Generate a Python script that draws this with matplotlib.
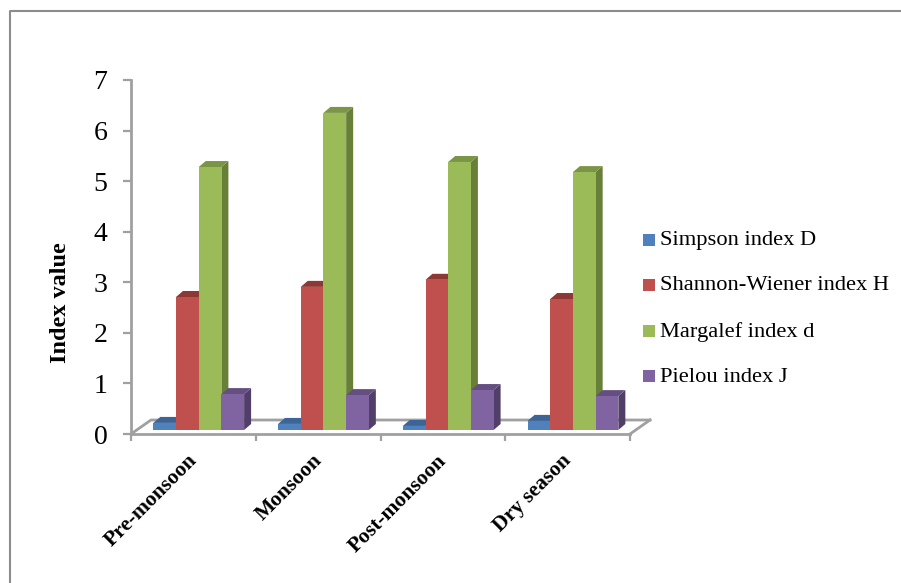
import matplotlib
matplotlib.use("Agg")
import matplotlib.pyplot as plt
from matplotlib.patches import Polygon, Rectangle
from matplotlib.lines import Line2D

W, H = 901, 583

seasons = ["Pre-monsoon", "Monsoon", "Post-monsoon", "Dry season"]
simpson = [0.14, 0.12, 0.08, 0.18]
shannon = [2.63, 2.83, 2.97, 2.59]
margalef = [5.20, 6.27, 5.30, 5.10]
pielou = [0.71, 0.69, 0.79, 0.67]
series_names = ["Simpson index D", "Shannon-Wiener index H",
                "Margalef index d", "Pielou index J"]
series_values = [simpson, shannon, margalef, pielou]
front_colors = ["#4f81bd", "#c0504d", "#9bbb59", "#8064a2"]
top_colors = ["#3c6595", "#8e3836", "#7b9546", "#654f81"]
side_colors = ["#2f5179", "#7d3230", "#687f38", "#523f69"]
GRAY = "#a0a0a0"

plt.rcParams["font.family"] = ["Liberation Serif", "DejaVu Serif"]

fig = plt.figure(figsize=(W / 100, H / 100), dpi=100, facecolor="white")

# Plot area: the front floor edge carries y = 0 and the left wall the scale.
left, right, top, bottom = 131, 630, 80, 434
ax = fig.add_axes([left / W, 1 - bottom / H, (right - left) / W, (bottom - top) / H])
ax.set_xlim(0, 4)
ax.set_ylim(0, 7)
ax.patch.set_visible(False)
for name in ["top", "right"]:
    ax.spines[name].set_visible(False)
for name in ["left", "bottom"]:
    ax.spines[name].set_color(GRAY)
    ax.spines[name].set_linewidth(2.0)

ppx = 4 / (right - left)           # data units per pixel along x
ppy = 7 / (bottom - top)           # data units per pixel along y

# Perspective floor behind the bars
floor_dx, floor_dy = 20 * ppx, 14 * ppy
ax.add_line(Line2D([0, floor_dx, 4 + floor_dx], [0, floor_dy, floor_dy],
                   color=GRAY, lw=2.0, clip_on=False, zorder=1))
ax.add_line(Line2D([4, 4 + floor_dx], [0, floor_dy],
                   color=GRAY, lw=2.0, clip_on=False, zorder=1))

# 3-D style bars: front face, top face and right side
bar_w = 22.7 * ppx
start = 22.3 * ppx
base = 4 * ppy
dx, dy = 7 * ppx, 6 * ppy
for g in range(len(seasons)):
    for s, values in enumerate(series_values):
        x0 = g + start + s * bar_w
        x1 = x0 + bar_w
        y1 = base + values[g]
        z = 3 + s * 0.1
        ax.add_patch(Polygon([(x1, base), (x1 + dx, base + dy), (x1 + dx, y1 + dy), (x1, y1)],
                             fc=side_colors[s], ec="none", clip_on=False, zorder=z))
        ax.add_patch(Polygon([(x0, y1), (x0 + dx, y1 + dy), (x1 + dx, y1 + dy), (x1, y1)],
                             fc=top_colors[s], ec="none", clip_on=False, zorder=z))
        ax.add_patch(Rectangle((x0, base), bar_w, values[g],
                               fc=front_colors[s], ec="none", clip_on=False, zorder=z + 0.05))

ax.set_yticks(range(8))
ax.set_xticks(range(5))
ax.set_xticklabels([])
ax.tick_params(axis="y", direction="out", length=5.5, width=1.6, color=GRAY,
               labelsize=20, pad=11.5, labelcolor="black")
ax.tick_params(axis="x", direction="out", length=5, width=1.6, color=GRAY)

# Season names, slanted and ending under the middle of each group
for g, label in enumerate(seasons):
    ax.annotate(label, xy=(g + 0.5, 0), xycoords=("data", "data"),
                xytext=(-4.5, -12), textcoords="offset points",
                rotation=45, rotation_mode="anchor", ha="right", va="top",
                fontsize=15.5, fontweight="bold", color="black")

fig.text(60 / W, 1 - 303 / H, "Index value", rotation=90, ha="center", va="center",
         fontsize=17.5, fontweight="bold", color="black")

# Legend drawn by hand in figure space
legend_y = [240, 285, 331, 376]
for y, name, color in zip(legend_y, series_names, front_colors):
    fig.add_artist(Rectangle((643 / W, 1 - (y + 6) / H), 12 / W, 12 / H,
                             transform=fig.transFigure, fc=color, ec="none"))
    fig.text(660 / W, 1 - (y + 1) / H, name, ha="left", va="center", fontsize=16.2, color="black")

# Outer chart frame
fig.add_artist(Line2D([10 / W, 10 / W, 1], [0, 1 - 11 / H, 1 - 11 / H],
                      transform=fig.transFigure, color="#8c8c8c", lw=1.5))

fig.savefig("out.png", dpi=100, facecolor="white")
